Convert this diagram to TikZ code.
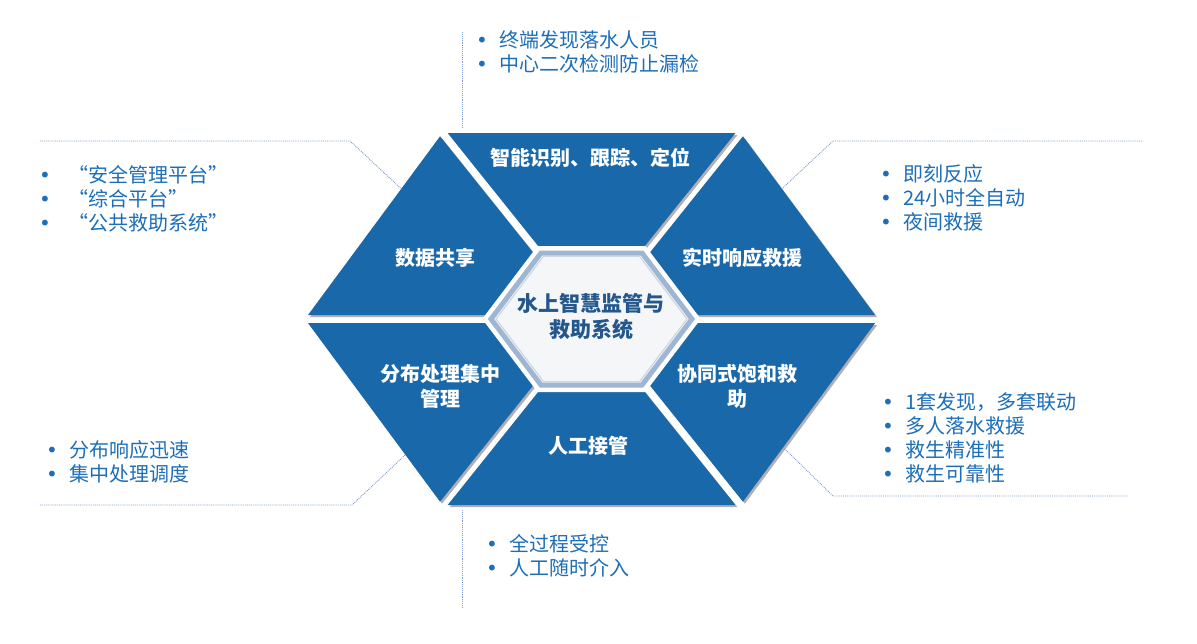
\documentclass[tikz,border=0pt]{standalone}
\usepackage{fontspec}
\setmainfont{Noto Sans CJK SC}
\newfontfamily\dejavu{DejaVu Sans}
\usetikzlibrary{calc}
\definecolor{slicecol}{RGB}{25,104,170}
\definecolor{bultxt}{RGB}{28,110,185}
\definecolor{ctrtxt}{RGB}{36,88,140}
\definecolor{leadcol}{RGB}{125,155,205}
\definecolor{hexfill}{RGB}{245,246,248}
\definecolor{hexrim}{RGB}{158,182,210}
\definecolor{hexrimin}{RGB}{205,215,228}
\definecolor{shadecol}{RGB}{175,175,180}
\def\gapd{4pt}
\newcommand\mkslice[3]{%
  \coordinate (#3p1) at ($(C)!\gapd!-90:(#1)$);
  \coordinate (#3q1) at ($(#1)!\gapd!90:(C)$);
  \coordinate (#3p2) at ($(C)!\gapd!90:(#2)$);
  \coordinate (#3q2) at ($(#2)!\gapd!-90:(C)$);
  \coordinate (#3a) at (intersection of #3p1--#3q1 and #3p2--#3q2);
  \coordinate (#3b) at (intersection of #3p1--#3q1 and #1--#2);
  \coordinate (#3c) at (intersection of #3p2--#3q2 and #1--#2);
}
\newcommand\bi{\makebox[23pt][l]{\raisebox{0pt}{\dejavu\fontsize{20}{20}\selectfont •}}}
\tikzset{
  bul/.style={anchor=west, inner sep=0pt, align=left, text=bultxt, font=\fontsize{20}{24}\selectfont},
  slicetxt/.style={inner sep=0pt, align=center, text=white, font=\fontsize{20}{25}\selectfont\bfseries},
  ctrstyle/.style={inner sep=0pt, align=center, text=ctrtxt, font=\fontsize{21}{26}\selectfont\bfseries},
  leader/.style={leadcol, line width=0.9pt, densely dotted},
  slicefill/.style={fill=slicecol},
  shadowfill/.style={fill=shadecol}
}
\begin{document}
\begin{tikzpicture}[x=1pt,y=-1pt]
\useasboundingbox (0,0) rectangle (1197,643);
\fill[white] (0,0) rectangle (1197,643);

% hexagon vertices
\coordinate (C) at (591.5,319);
\coordinate (R) at (878,319);
\coordinate (TR) at (740.5,133);
\coordinate (TL) at (442.5,133);
\coordinate (L) at (305,319);
\coordinate (BL) at (442.5,505);
\coordinate (BR) at (740.5,505);

\mkslice{TL}{TR}{sT}
\mkslice{TR}{R}{sUR}
\mkslice{R}{BR}{sLR}
\mkslice{BR}{BL}{sB}
\mkslice{BL}{L}{sLL}
\mkslice{L}{TL}{sUL}

% shadows
\foreach \s in {sT,sUR,sLR,sB,sLL,sUL}
  \fill[shadowfill] ([shift={(2,2)}]\s a) -- ([shift={(2,2)}]\s b) -- ([shift={(2,2)}]\s c) -- cycle;
% slices
\foreach \s in {sT,sUR,sLR,sB,sLL,sUL}
  \fill[slicefill] (\s a) -- (\s b) -- (\s c) -- cycle;

% inner hexagon
\coordinate (h1) at (491,319);
\coordinate (h2) at (541,253);
\coordinate (h3) at (642,253);
\coordinate (h4) at (692,319);
\coordinate (h5) at (642,385);
\coordinate (h6) at (541,385);
\draw[white, line width=14pt, line join=miter] (h1) -- (h2) -- (h3) -- (h4) -- (h5) -- (h6) -- cycle;
\draw[hexrim, line width=5pt, fill=hexfill] (h1) -- (h2) -- (h3) -- (h4) -- (h5) -- (h6) -- cycle;
\draw[hexrimin, line width=1.2pt] ($(C)!0.95!(h1)$) -- ($(C)!0.95!(h2)$) -- ($(C)!0.95!(h3)$) -- ($(C)!0.95!(h4)$) -- ($(C)!0.95!(h5)$) -- ($(C)!0.95!(h6)$) -- cycle;

% slice labels
\node[slicetxt] (lT) at (590,158) {智能识别、跟踪、定位};
\node[slicetxt] (lUL) at (435,258) {数据共享};
\node[slicetxt] (lUR) at (742,258) {实时响应救援};
\node[slicetxt] (lLL) at (440,386) {分布处理集中\\管理};
\node[slicetxt] (lLR) at (737,386) {协同式饱和救\\助};
\node[slicetxt] (lB) at (588,446) {人工接管};
\node[ctrstyle] (ctr) at (591,317) {水上智慧监管与\\救助系统};

% bullet blocks
\node[bul] (bTop) at (476,51.5) {\bi 终端发现落水人员\\\bi 中心二次检测防止漏检};
\node[bul] (bUL) at (39,199) {\bi\hspace{6pt}“安全管理平台”\\\bi\hspace{6pt}“综合平台”\\\bi\hspace{6pt}“公共救助系统”};
\node[bul] (bUR) at (880,198) {\bi 即刻反应\\\bi 24小时全自动\\\bi 夜间救援};
\node[bul] (bLL) at (46,462) {\bi 分布响应迅速\\\bi 集中处理调度};
\node[bul] (bLR) at (882,437.5) {\bi 1套发现，多套联动\\\bi 多人落水救援\\\bi 救生精准性\\\bi 救生可靠性};
\node[bul] (bBot) at (486,555.5) {\bi 全过程受控\\\bi 人工随时介入};

% leaders
\coordinate (eUL) at ($(TL)!0.3!(L)$);
\coordinate (kUL) at (350,141);
\coordinate (fUL) at (40,141);
\draw[leader] (fUL) -- (kUL) -- (eUL);
\coordinate (eUR) at ($(TR)!0.3!(R)$);
\coordinate (kUR) at (833,141);
\coordinate (fUR) at (1143,141);
\draw[leader] (eUR) -- (kUR) -- (fUR);
\coordinate (eLL) at ($(BL)!0.27!(L)$);
\coordinate (kLL) at (352,505);
\coordinate (fLL) at (40,505);
\draw[leader] (fLL) -- (kLL) -- (eLL);
\coordinate (eLR) at ($(BR)!0.31!(R)$);
\coordinate (kLR) at (833,496);
\coordinate (fLR) at (1128,496);
\draw[leader] (eLR) -- (kLR) -- (fLR);
\coordinate (tTop) at (462,32);
\coordinate (eTop) at (462,128);
\draw[leader] (tTop) -- (eTop);
\coordinate (eBot) at (462,510);
\coordinate (tBot) at (462,607);
\draw[leader] (eBot) -- (tBot);
\end{tikzpicture}
\end{document}
